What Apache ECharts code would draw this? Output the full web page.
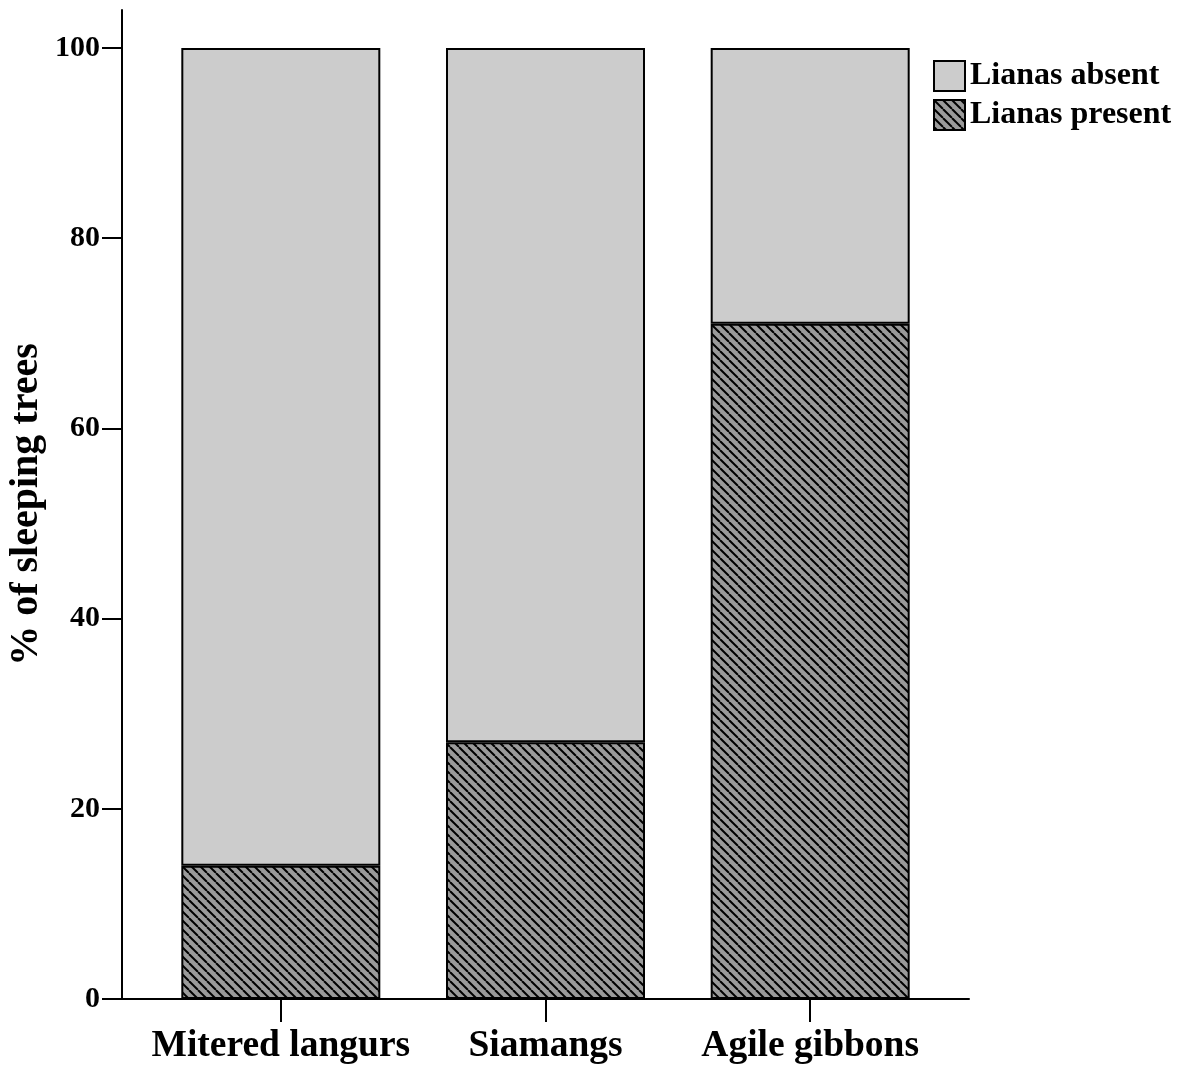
<!DOCTYPE html>
<html>
<head>
<meta charset="utf-8">
<script src="https://cdn.jsdelivr.net/npm/echarts@6/dist/echarts.min.js"></script>
<style>
  html, body { margin: 0; padding: 0; background: #fff; }
  #chart { width: 1196px; height: 1072px; }
</style>
</head>
<body>
<div id="chart"></div>
<script>
// Sleeping-tree liana presence by primate species (percent of trees)
const species = ['Mitered langurs', 'Siamangs', 'Agile gibbons'];
const lianasPresent = [14, 27, 71];
const lianasAbsent = [86, 73, 29];
const yTicks = [0, 20, 40, 60, 80, 100];
const xPositions = [0, 1, 2];

const FONT = '"Liberation Serif", "Times New Roman", serif';

// Diagonal hatch tile: grey ground with black "\" strokes
function hatchTile() {
  const s = 9;
  const c = document.createElement('canvas');
  c.width = s; c.height = s;
  const g = c.getContext('2d');
  g.fillStyle = '#9a9a9a';
  g.fillRect(0, 0, s, s);
  g.strokeStyle = '#000';
  g.lineWidth = 2;
  for (const off of [-s, 0, s]) {
    g.beginPath();
    g.moveTo(off, 0);
    g.lineTo(off + s, s);
    g.stroke();
  }
  return c;
}

const chart = echarts.init(document.getElementById('chart'), null, { renderer: 'canvas' });

const barStyle = { borderColor: '#000', borderWidth: 2 };

// rows are [percent, position] so the stacked dimension is the value one
const rows = (vals) => vals.map((v, i) => [v, xPositions[i]]);

chart.setOption({
  animation: false,
  backgroundColor: '#fff',
  grid: { left: 122, right: 227, top: 10, bottom: 73, containLabel: false, outerBoundsMode: 'none' },
  legend: {
    orient: 'vertical',
    left: 933,
    top: 60,
    padding: 0,
    itemWidth: 31,
    itemHeight: 30,
    itemGap: 7,
    icon: 'rect',
    textStyle: { fontFamily: FONT, fontWeight: 'bold', fontSize: 32, color: '#000' },
    data: ['Lianas absent', 'Lianas present']
  },
  xAxis: {
    type: 'value',
    min: -0.6,
    max: 2.6,
    splitLine: { show: false },
    axisLine: { show: true, onZero: false, lineStyle: { color: '#000', width: 2 } },
    axisTick: { show: true, inside: false, length: 23, customValues: xPositions, lineStyle: { color: '#000', width: 2 } },
    axisLabel: {
      customValues: xPositions,
      margin: 28,
      formatter: v => species[Math.round(v)] || '',
      fontFamily: FONT, fontWeight: 'bold', fontSize: 37.5, color: '#000'
    }
  },
  yAxis: {
    type: 'value',
    min: 0,
    max: 104,
    name: '% of sleeping trees',
    nameLocation: 'middle',
    nameGap: 75,
    nameMoveOverlap: false,
    nameRotate: 90,
    nameTextStyle: { fontFamily: FONT, fontWeight: 'bold', fontSize: 40, color: '#000' },
    splitLine: { show: false },
    axisLine: { show: true, onZero: false, lineStyle: { color: '#000', width: 2 } },
    axisTick: { show: true, inside: false, length: 20, customValues: yTicks, lineStyle: { color: '#000', width: 2 } },
    axisLabel: {
      customValues: yTicks,
      margin: 22,
      fontFamily: FONT, fontWeight: 'bold', fontSize: 30, color: '#000'
    }
  },
  series: [
    {
      name: 'Lianas present',
      type: 'bar',
      stack: 'trees',
      barWidth: 199,
      encode: { x: 1, y: 0 },
      itemStyle: Object.assign({ color: { image: hatchTile(), repeat: 'repeat' } }, barStyle),
      data: rows(lianasPresent)
    },
    {
      name: 'Lianas absent',
      type: 'bar',
      stack: 'trees',
      barWidth: 199,
      encode: { x: 1, y: 0 },
      itemStyle: Object.assign({ color: '#cccccc' }, barStyle),
      data: rows(lianasAbsent)
    }
  ]
});
</script>
</body>
</html>
